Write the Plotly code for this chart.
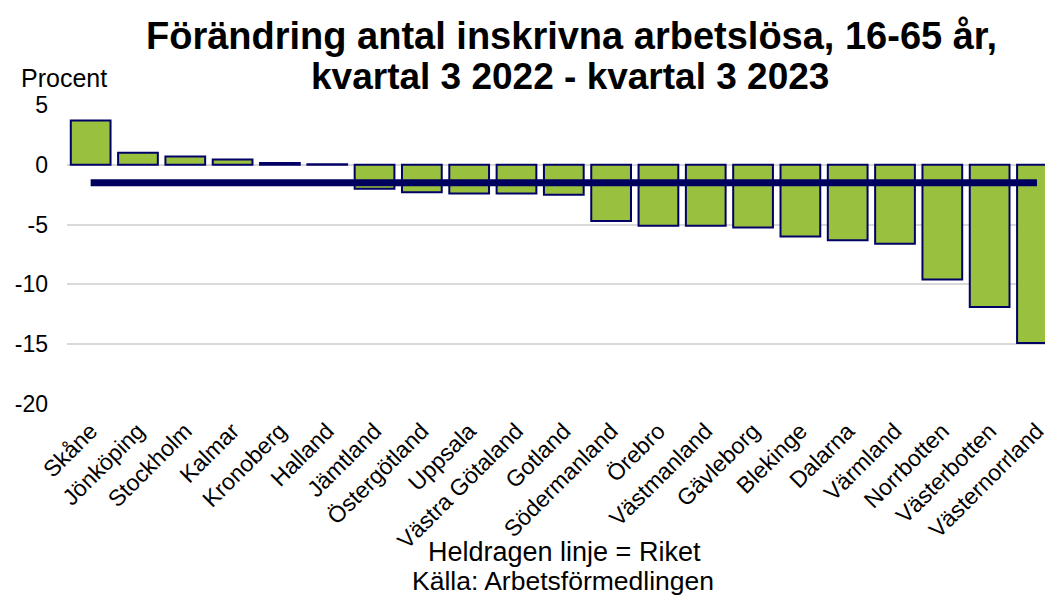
import plotly.graph_objects as go

categories = ["Skåne", "Jönköping", "Stockholm", "Kalmar", "Kronoberg", "Halland",
              "Jämtland", "Östergötland", "Uppsala", "Västra Götaland", "Gotland",
              "Södermanland", "Örebro", "Västmanland", "Gävleborg", "Blekinge",
              "Dalarna", "Värmland", "Norrbotten", "Västerbotten", "Västernorrland"]
values = [3.7, 1.0, 0.7, 0.45, 0.15, 0.05,
          -2.0, -2.3, -2.4, -2.4, -2.5,
          -4.7, -5.1, -5.1, -5.25, -6.0,
          -6.3, -6.6, -9.6, -11.9, -14.9]
riket = -1.5
y_ticks = [5, 0, -5, -10, -15, -20]

title_line1 = "Förändring antal inskrivna arbetslösa, 16-65 år,"
title_line2 = "kvartal 3 2022 - kvartal 3 2023"

W, H = 1049, 597
L, R, T, B = 67, 0, 105, 193
plot_h = H - T - B
plot_w = W - L - R

def py(pix):
    return (H - B - pix) / plot_h

def px(pix):
    return (pix - L) / plot_w

FONT = "Liberation Sans, Arial, sans-serif"

fig = go.Figure()
fig.add_trace(go.Bar(
    x=categories, y=values,
    marker=dict(color="#9AC13D", line=dict(color="#000066", width=2)),
    width=0.84,
    showlegend=False,
))
fig.add_trace(go.Scatter(
    x=[categories[0], categories[-1]], y=[riket, riket],
    mode="lines", line=dict(color="#00005E", width=7),
    showlegend=False,
))

fig.update_layout(
    width=W, height=H,
    margin=dict(l=L, r=R, t=T, b=B),
    plot_bgcolor="white", paper_bgcolor="white",
    font=dict(family=FONT, color="black"),
    xaxis=dict(
        range=[-0.5, 20.17], tickangle=-45, tickfont=dict(size=23),
        showgrid=False, showline=False, ticks="", ticklabelstandoff=8,
    ),
    yaxis=dict(
        range=[-20, 5], tickvals=y_ticks, ticktext=[str(v) for v in y_ticks],
        tickfont=dict(size=23), showgrid=True, gridcolor="#D9D9D9", gridwidth=2,
        zeroline=True, zerolinecolor="#D9D9D9", zerolinewidth=2,
        showline=False, ticks="", ticklabelstandoff=18,
    ),
    bargap=0.16,
    annotations=[
        dict(text="<b>" + title_line1 + "</b>", xref="paper", yref="paper",
             x=px(574), y=py(36), xanchor="center", yanchor="middle",
             showarrow=False, font=dict(size=38)),
        dict(text="<b>" + title_line2 + "</b>", xref="paper", yref="paper",
             x=px(572), y=py(76), xanchor="center", yanchor="middle",
             showarrow=False, font=dict(size=37)),
        dict(text="Procent", xref="paper", yref="paper", x=px(19), y=py(78),
             xanchor="left", yanchor="middle", showarrow=False, font=dict(size=25)),
        dict(text="Heldragen linje = Riket", xref="paper", yref="paper",
             x=px(567), y=py(552), xanchor="center", yanchor="middle",
             showarrow=False, font=dict(size=27)),
        dict(text="Källa: Arbetsförmedlingen", xref="paper", yref="paper",
             x=px(565), y=py(581), xanchor="center", yanchor="middle",
             showarrow=False, font=dict(size=26.5)),
    ],
)

fig.write_html("out.html", config={"displayModeBar": False},
               post_script="document.body.style.margin='0';document.body.style.overflow='hidden';")
